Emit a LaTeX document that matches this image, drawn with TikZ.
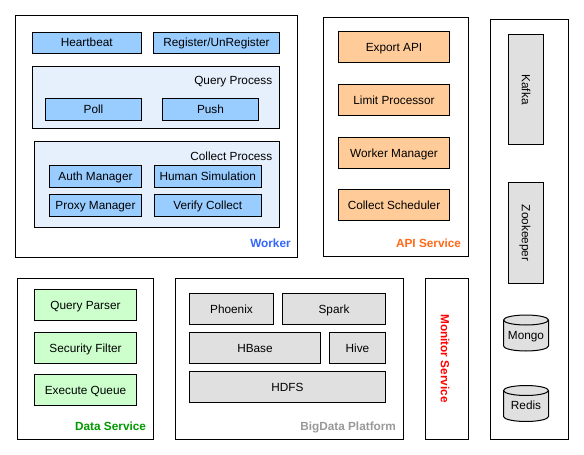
\documentclass[tikz,border=0pt]{standalone}
\usepackage{fontspec}
\setmainfont{Liberation Sans}
\definecolor{cBlue}{HTML}{99CCFF}
\definecolor{cPale}{HTML}{E6F0FC}
\definecolor{cOrange}{HTML}{FFCC99}
\definecolor{cGreen}{HTML}{CCFFCC}
\definecolor{cGray}{HTML}{E0E0E0}
\definecolor{tBlue}{HTML}{3366FF}
\definecolor{tOrange}{HTML}{FF6A1A}
\definecolor{tGreen}{HTML}{009900}
\definecolor{tGray}{HTML}{999999}
\definecolor{tRed}{HTML}{FF0000}
\begin{document}
\begin{tikzpicture}[x=1pt,y=-1pt,
  every node/.style={font=\fontsize{11.8}{14}\selectfont, inner sep=0pt, outer sep=0pt},
  boxbase/.style={draw=black, line width=1pt, text height=8.5pt, text depth=0pt, align=center},
  frame/.style={boxbase, fill=white},
  pale/.style={boxbase, fill=cPale},
  bluebox/.style={boxbase, fill=cBlue},
  orangebox/.style={boxbase, fill=cOrange},
  greenbox/.style={boxbase, fill=cGreen},
  graybox/.style={boxbase, fill=cGray},
  sz/.style 2 args={minimum width=#1pt, minimum height=#2pt},
  grouplabel/.style={anchor=base east, font=\fontsize{11.8}{14}\selectfont\bfseries},
  sublabel/.style={anchor=base east},
  cyl/.style={draw=black, line width=1pt, fill=cGray}
]
\useasboundingbox (0,0) rectangle (584,455);

% ---------- Worker ----------
\node[frame, sz={282}{242}] (worker) at (156,136) {};
\node[bluebox, sz={109.5}{21}] (hb) at (86.75,42.5) {Heartbeat};
\node[bluebox, sz={126}{21}] (reg) at (216.5,42.5) {Register/UnRegister};
\node[pale, sz={247}{61.5}] (qp) at (156,97.25) {};
\node[sublabel] (qplab) at (272.3,84) {Query Process};
\node[bluebox, sz={96}{22}] (poll) at (93.5,109.5) {Poll};
\node[bluebox, sz={96}{22}] (push) at (210.5,109.5) {Push};
\node[pale, sz={245}{86}] (cp) at (157,184.5) {};
\node[sublabel] (cplab) at (272.3,160) {Collect Process};
\node[bluebox, sz={92}{22}] (auth) at (95.5,176.5) {Auth Manager};
\node[bluebox, sz={106.5}{22}] (human) at (207.75,176.5) {Human Simulation};
\node[bluebox, sz={92}{21.5}] (proxy) at (95.5,205.25) {Proxy Manager};
\node[bluebox, sz={106.5}{21.5}] (verify) at (207.75,205.25) {Verify Collect};
\node[grouplabel, text=tBlue] (workerlab) at (290.7,247.3) {Worker};

% ---------- API Service ----------
\node[frame, sz={145}{239}] (api) at (396,137) {};
\node[orangebox, sz={111}{31}] (export) at (394,47) {Export API};
\node[orangebox, sz={111}{31}] (limit) at (394,100) {Limit Processor};
\node[orangebox, sz={111}{31.5}] (wm) at (394,152.75) {Worker Manager};
\node[orangebox, sz={111}{31}] (cs) at (394,205) {Collect Scheduler};
\node[grouplabel, text=tOrange] (apilab) at (461,247.3) {API Service};

% ---------- Right column ----------
\node[frame, sz={78}{420}] (infra) at (529.5,229.5) {};
\node[graybox, sz={35}{110}] (kafkabox) at (526,89.5) {};
\node[rotate=-90, text height=8.5pt, text depth=0pt] (kafka) at (kafkabox.center) {Kafka};
\node[graybox, sz={35}{101}] (zkbox) at (526,233) {};
\node[rotate=-90, text height=8.5pt, text depth=0pt] (zk) at (zkbox.center) {Zookeeper};

% Mongo cylinder
\coordinate (mongotl) at (503.5,320);
\coordinate (mongobl) at (503.5,346);
\coordinate (mongobr) at (548.5,346);
\coordinate (mongotr) at (548.5,320);
\path[cyl] (mongotl) -- (mongobl) arc[start angle=180, end angle=360, x radius=22.5pt, y radius=5pt]
  -- (mongotr) arc[start angle=0, end angle=180, x radius=22.5pt, y radius=5pt] -- cycle;
\draw[line width=1pt] (mongotl) arc[start angle=180, end angle=360, x radius=22.5pt, y radius=5pt];
\node[text height=8.5pt, text depth=0pt] (mongo) at (526,335) {Mongo};

% Redis cylinder
\coordinate (redistl) at (503.5,390.5);
\coordinate (redisbl) at (503.5,416.5);
\coordinate (redisbr) at (548.5,416.5);
\coordinate (redistr) at (548.5,390.5);
\path[cyl] (redistl) -- (redisbl) arc[start angle=180, end angle=360, x radius=22.5pt, y radius=5pt]
  -- (redistr) arc[start angle=0, end angle=180, x radius=22.5pt, y radius=5pt] -- cycle;
\draw[line width=1pt] (redistl) arc[start angle=180, end angle=360, x radius=22.5pt, y radius=5pt];
\node[text height=8.5pt, text depth=0pt] (redis) at (526,405.5) {Redis};

% ---------- Data Service ----------
\node[frame, sz={136}{161}] (data) at (85.5,359) {};
\node[greenbox, sz={102}{31}] (qparse) at (85.5,305) {Query Parser};
\node[greenbox, sz={102}{31}] (sf) at (85.5,348) {Security Filter};
\node[greenbox, sz={102}{31}] (eq) at (85.5,390) {Execute Queue};
\node[grouplabel, text=tGreen] (datalab) at (146,430.7) {Data Service};

% ---------- BigData Platform ----------
\node[frame, sz={228}{161}] (bigdata) at (289.5,359) {};
\node[graybox, sz={84}{31}] (phoenix) at (231.5,309) {Phoenix};
\node[graybox, sz={103}{31}] (spark) at (334,309) {Spark};
\node[graybox, sz={131}{31}] (hbase) at (255,348) {HBase};
\node[graybox, sz={56}{31}] (hive) at (357.5,348) {Hive};
\node[graybox, sz={196}{31}] (hdfs) at (287.5,387) {HDFS};
\node[grouplabel, text=tGray] (bdlab) at (396,430.7) {BigData Platform};

% ---------- Monitor Service ----------
\node[frame, sz={43}{161}] (monitor) at (447,359) {};
\node[rotate=-90, text height=8.5pt, text depth=0pt, font=\fontsize{11.8}{14}\selectfont\bfseries, text=tRed] (monlab) at (445,358.5) {Monitor Service};

\end{tikzpicture}
\end{document}
